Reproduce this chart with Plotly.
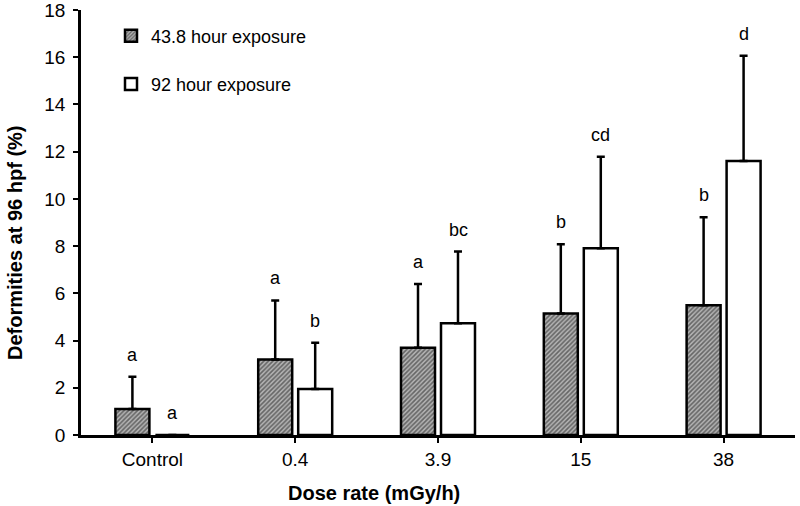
import plotly.graph_objects as go

categories = ["Control", "0.4", "3.9", "15", "38"]
exp_43_8 = [1.1, 3.2, 3.7, 5.15, 5.5]
err_43_8 = [1.37, 2.5, 2.7, 2.93, 3.72]
exp_92 = [0.0, 1.95, 4.73, 7.91, 11.61]
err_92 = [0.0, 1.96, 3.04, 3.88, 4.45]
letters_43_8 = ["a", "a", "a", "b", "b"]
letters_92 = ["a", "b", "bc", "cd", "d"]

FONT = "Liberation Sans, Arial, sans-serif"

fig = go.Figure()
fig.add_trace(go.Bar(
    x=categories, y=exp_43_8, name="43.8 hour exposure",
    legendgroup="g1",
    marker=dict(color="#9a9a9a", line=dict(color="black", width=2.5),
                pattern=dict(shape="/", fgcolor="#151515", bgcolor="#b4b4b4",
                             size=3.2, solidity=0.5)),
    error_y=dict(type="data", array=err_43_8, arrayminus=[0]*5, symmetric=False,
                 color="black", thickness=2.5, width=4),
))
fig.add_trace(go.Bar(
    x=categories, y=exp_92, name="92 hour exposure",
    legendgroup="g2",
    marker=dict(color="white", line=dict(color="black", width=2.5)),
    error_y=dict(type="data", array=err_92, arrayminus=[0]*5, symmetric=False,
                 color="black", thickness=2.5, width=4),
))

ann = []
for i, c in enumerate(categories):
    ann.append(dict(x=i, y=exp_43_8[i] + err_43_8[i], xref="x", yref="y",
                    text=letters_43_8[i], showarrow=False, xshift=-20, yshift=10,
                    yanchor="bottom", font=dict(family=FONT, size=18, color="black")))
    ann.append(dict(x=i, y=exp_92[i] + err_92[i], xref="x", yref="y",
                    text=letters_92[i], showarrow=False, xshift=20, yshift=10,
                    yanchor="bottom", font=dict(family=FONT, size=18, color="black")))

# axis titles (plot area: x 81..795, y 10..435 in page pixels)
ann.append(dict(x=(374 - 81) / 714, y=(435 - 492.7) / 425, xref="paper", yref="paper",
                showarrow=False, text="<b>Dose rate (mGy/h)</b>",
                xanchor="center", yanchor="middle",
                font=dict(family=FONT, size=20, color="black")))
ann.append(dict(x=(15 - 81) / 714, y=(435 - 243) / 425, xref="paper", yref="paper",
                showarrow=False, text="<b>Deformities at 96 hpf (%)</b>", textangle=-90,
                xanchor="center", yanchor="middle",
                font=dict(family=FONT, size=20, color="black")))

fig.update_layout(
    width=800, height=506,
    margin=dict(l=81, r=5, t=10, b=71),
    paper_bgcolor="white", plot_bgcolor="white",
    barmode="group", bargap=0.44, bargroupgap=0.15,
    font=dict(family=FONT, size=19, color="black"),
    showlegend=True,
    legend=dict(x=(111 - 81) / 714, y=1 - (17.5 - 10) / 425, xanchor="left", yanchor="top",
                bgcolor="rgba(0,0,0,0)", font=dict(family=FONT, size=18),
                traceorder="grouped", tracegroupgap=22, itemwidth=30),
    annotations=ann,
    xaxis=dict(type="category", range=[-0.5, 4.5], automargin=False,
               showline=True, linecolor="black", linewidth=2.5,
               ticks="outside", ticklen=5, tickwidth=2, tickcolor="black",
               showgrid=False, tickangle=0, ticklabelstandoff=0,
               ticklabeloverflow="allow", tickfont=dict(size=19)),
    yaxis=dict(range=[0, 18], dtick=2, automargin=False,
               showline=True, linecolor="black", linewidth=2.5,
               ticks="outside", ticklen=5, tickwidth=2, tickcolor="black",
               showgrid=False, zeroline=False, ticklabelstandoff=4,
               ticklabeloverflow="allow", tickfont=dict(size=19)),
)

fig.write_html("out.html", config={"displayModeBar": False},
               post_script="document.body.style.margin='0';document.body.style.padding='0';")
